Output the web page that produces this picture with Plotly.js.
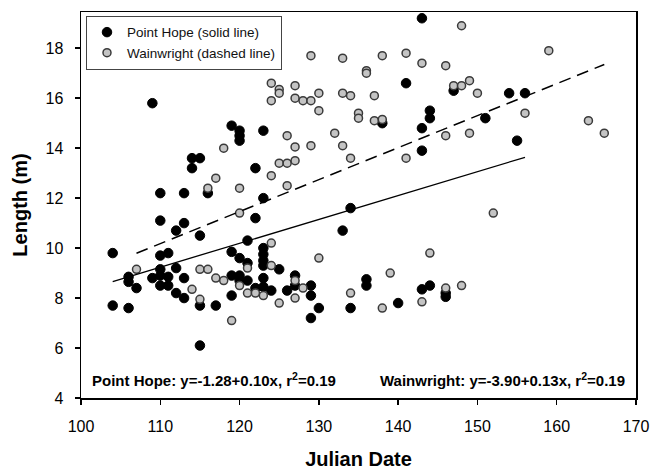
<!DOCTYPE html>
<html>
<head>
<meta charset="utf-8">
<script src="https://cdn.plot.ly/plotly-3.0.1.min.js"></script>
<style>html,body{margin:0;padding:0;background:#fff;}#chart{width:650px;height:470px;}</style>
</head>
<body>
<div id="chart"></div>
<script>
// Point Hope (black)
const phDate = [109,119,120,120,120,123,114,115,114,122,116,110,113,123,143,141,138,144,144,143,147,143,154,156,151,155,110,113,112,115,122,104,110,111,110,110,106,106,107,109,111,111,110,112,113,112,113,104,106,115,115,117,119,120,119,120,121,121,119,120,121,123,123,123,123,123,122,123,134,133,125,127,124,126,127,129,129,130,129,134,136,136,140,143,144,146,146];
const phLength = [15.8,14.9,14.7,14.5,14.3,14.7,13.6,13.6,13.2,13.2,12.2,12.2,12.2,12.0,19.2,16.6,15.0,15.5,15.2,14.8,16.3,13.9,16.2,16.2,15.2,14.3,11.1,11.0,10.7,10.5,11.2,9.8,9.7,9.8,9.15,8.9,8.85,8.65,8.4,8.8,8.85,8.5,8.5,9.2,8.8,8.2,8.0,7.7,7.6,6.1,7.7,7.7,9.85,9.6,8.9,8.9,9.4,8.7,8.1,8.7,10.3,10.0,9.75,9.5,9.3,8.8,8.4,8.45,11.6,10.7,9.15,8.9,8.3,8.3,8.5,8.5,8.1,7.6,7.2,7.6,8.75,8.5,7.8,8.35,8.5,8.2,8.05];
// Wainwright (grey)
const wwDate = [124,124,118,124,117,116,120,148,129,133,138,141,143,146,136,136,125,125,127,127,128,129,130,133,134,137,130,135,135,137,138,146,147,148,126,132,127,129,133,134,125,126,127,126,141,159,149,150,156,149,164,166,120,107,114,115,115,116,117,118,119,121,120,121,122,123,124,130,124,127,128,127,125,134,139,138,144,143,146,148,152];
const wwLength = [16.6,15.9,14.0,12.9,12.8,12.4,12.4,18.9,17.7,17.6,17.7,17.8,17.4,17.3,17.1,17.0,16.35,16.2,16.5,16.0,15.9,15.9,16.2,16.2,16.1,16.1,15.5,15.4,15.2,15.1,15.15,14.5,16.5,16.5,14.5,14.6,14.05,14.1,14.1,13.6,13.4,13.4,13.5,12.5,13.6,17.9,16.7,16.2,15.4,14.6,15.1,14.6,11.4,9.15,8.35,7.95,9.15,9.15,8.8,8.7,7.1,9.2,8.5,8.2,8.2,8.1,10.2,9.6,9.3,8.7,8.4,8.0,7.8,8.2,9.0,7.6,9.8,7.85,8.4,8.5,11.4];
// regression lines as drawn
const phFit = {intercept: -1.28, slope: 0.0956};
const wwFit = {intercept: -3.90, slope: 0.128};
const xTicks = [100,110,120,130,140,150,160,170];
const yTicks = [4,6,8,10,12,14,16,18];

function fitLine(xs, f){
  const lo = Math.min(...xs), hi = Math.max(...xs);
  return {x:[lo,hi], y:[f.intercept+f.slope*lo, f.intercept+f.slope*hi]};
}
const phL = fitLine(phDate, phFit);
const wwL = fitLine(wwDate, wwFit);
const FONT = 'Liberation Sans, Arial, sans-serif';

const traces = [
  {x: phDate, y: phLength, mode:'markers', type:'scatter', name:'Point Hope (solid line)',
   marker:{color:'#000', size:9.5, line:{color:'#000', width:1}}},
  {x: wwDate, y: wwLength, mode:'markers', type:'scatter', name:'Wainwright (dashed line)',
   marker:{color:'#c4c4c4', size:8, line:{color:'#3a3a3a', width:1.5}}},
  {x: phL.x, y: phL.y, mode:'lines', type:'scatter', showlegend:false, hoverinfo:'skip',
   line:{color:'#000', width:1.3}},
  {x: wwL.x, y: wwL.y, mode:'lines', type:'scatter', showlegend:false, hoverinfo:'skip',
   line:{color:'#000', width:1.5, dash:'12px,7px'}}
];

const layout = {
  width:650, height:470,
  margin:{l:81, r:14, t:12, b:72},
  paper_bgcolor:'#fff', plot_bgcolor:'#fff',
  font:{family:FONT, color:'#000'},
  showlegend:true,
  legend:{x:0.009, y:0.99, xanchor:'left', yanchor:'top', bgcolor:'#fff',
    bordercolor:'#444', borderwidth:1, font:{family:FONT, size:13.5, color:'#111'}},
  xaxis:{range:[100,170], tickvals:xTicks, ticks:'outside', ticklen:5, tickwidth:1.5, tickcolor:'#000',
    showline:true, linecolor:'#000', linewidth:1.5, mirror:true, showgrid:false, zeroline:false,
    ticklabelstandoff:8, tickfont:{family:FONT, size:16},
    title:{text:'Julian Date', font:{family:FONT, size:20, weight:'bold'}, standoff:18}},
  yaxis:{range:[4,19.45], tickvals:yTicks, ticks:'outside', ticklen:5, tickwidth:1.5, tickcolor:'#000',
    showline:true, linecolor:'#000', linewidth:1.5, mirror:true, showgrid:false, zeroline:false,
    ticklabelstandoff:8, tickfont:{family:FONT, size:16},
    title:{text:'Length (m)', font:{family:FONT, size:20, weight:'bold'}, standoff:12}},
  annotations:[
    {xref:'paper', yref:'paper', x:0.016, y:0.049, xanchor:'left', yanchor:'middle', showarrow:false,
     text:'Point Hope: y=-1.28+0.10x, r<sup>2</sup>=0.19', font:{family:FONT, size:15, weight:'bold'}},
    {xref:'paper', yref:'paper', x:0.984, y:0.049, xanchor:'right', yanchor:'middle', showarrow:false,
     text:'Wainwright: y=-3.90+0.13x, r<sup>2</sup>=0.19', font:{family:FONT, size:15, weight:'bold'}}
  ]
};
Plotly.newPlot('chart', traces, layout, {displayModeBar:false, staticPlot:true});
</script>
</body>
</html>
